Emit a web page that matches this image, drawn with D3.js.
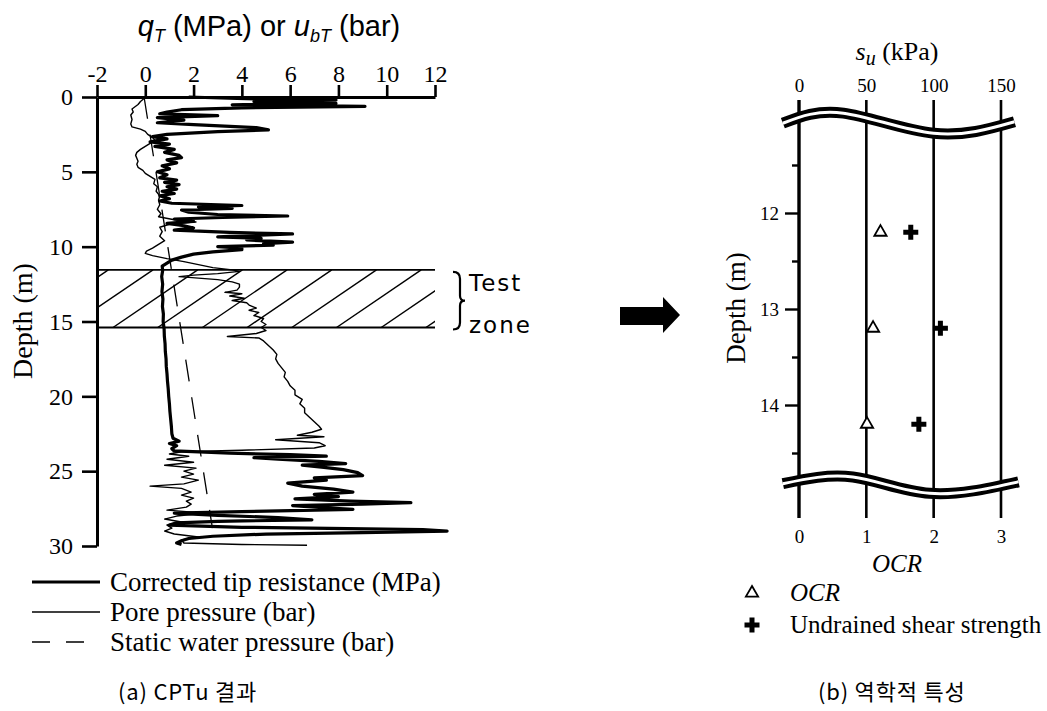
<!DOCTYPE html>
<html>
<head>
<meta charset="utf-8">
<script src="https://cdn.jsdelivr.net/npm/d3@7"></script>
<style>
body { margin: 0; background: #fff; }
svg { display: block; }
</style>
</head>
<body>
<script>

// ---- (a) CPTu data, [depth (m), value] ----
const tipResistance = [
  [0.00, 1.8], [0.10, 3.8], [0.20, 7.9], [0.30, 4.5], [0.42, 7.9], [0.52, 3.6], [0.62, 9.1],
  [0.72, 4.0], [0.85, 1.5], [1.00, 0.9], [1.12, 0.6], [1.25, 3.0], [1.38, 0.5], [1.55, 1.6],
  [1.72, 0.5], [1.85, 2.0], [2.05, 4.6], [2.20, 5.1], [2.32, 3.0], [2.50, 0.9], [2.65, 0.3],
  [2.80, 0.9], [3.00, 0.2], [3.15, 1.0], [3.30, 0.4], [3.50, 1.2], [3.70, 0.8], [3.90, 1.4],
  [4.05, 1.5], [4.20, 0.9], [4.40, 1.3], [4.60, 0.7], [4.80, 1.0], [5.00, 0.5], [5.20, 0.9],
  [5.40, 0.6], [5.55, 1.3], [5.70, 0.8], [5.85, 1.4], [6.00, 0.9], [6.15, 1.3], [6.30, 0.7],
  [6.45, 1.2], [6.60, 0.6], [6.80, 1.0], [6.95, 0.6], [7.10, 1.1], [7.25, 4.0], [7.35, 2.2],
  [7.45, 3.6], [7.55, 1.5], [7.70, 1.8], [7.85, 3.0], [7.95, 5.9], [8.05, 3.2], [8.15, 1.2],
  [8.30, 2.0], [8.45, 0.9], [8.60, 1.6], [8.75, 2.0], [8.90, 1.2], [9.05, 3.5], [9.15, 6.1],
  [9.25, 4.5], [9.35, 3.0], [9.45, 4.8], [9.55, 4.2], [9.70, 6.1], [9.80, 4.9], [9.90, 5.3],
  [10.00, 3.0], [10.10, 4.0], [10.20, 4.0], [10.35, 2.8], [10.50, 2.0], [10.70, 1.5],
  [10.90, 1.1], [11.10, 0.9], [11.30, 0.7], [11.60, 0.72], [12.00, 0.68], [12.50, 0.72],
  [13.00, 0.69], [13.50, 0.73], [14.00, 0.71], [14.50, 0.75], [15.00, 0.74], [15.50, 0.78],
  [16.00, 0.79], [16.50, 0.82], [17.00, 0.83], [17.50, 0.86], [18.00, 0.87], [18.50, 0.9],
  [19.00, 0.92], [19.50, 0.95], [20.00, 0.97], [20.50, 1.0], [21.00, 1.02], [21.50, 1.05],
  [22.00, 1.08], [22.50, 1.1], [22.80, 1.15], [23.00, 1.4], [23.15, 1.0], [23.30, 1.3],
  [23.50, 1.1], [23.65, 1.2], [23.80, 3.5], [23.90, 6.0], [24.00, 7.5], [24.10, 4.5],
  [24.20, 5.5], [24.35, 7.2], [24.50, 8.3], [24.60, 6.5], [24.75, 7.4], [24.90, 8.2],
  [25.10, 8.8], [25.30, 9.0], [25.45, 7.0], [25.60, 7.5], [25.80, 5.9], [26.00, 6.5],
  [26.20, 7.8], [26.40, 8.6], [26.55, 7.0], [26.70, 8.0], [26.85, 6.2], [27.00, 8.5],
  [27.10, 11.0], [27.20, 9.0], [27.30, 6.1], [27.45, 7.5], [27.55, 8.6], [27.70, 4.0],
  [27.80, 1.2], [27.95, 3.0], [28.10, 5.5], [28.25, 6.9], [28.35, 3.0], [28.45, 1.3],
  [28.60, 1.0], [28.75, 4.0], [28.90, 11.5], [29.00, 12.5], [29.10, 9.0], [29.20, 5.0],
  [29.35, 2.8], [29.50, 1.8], [29.65, 1.5], [29.80, 1.3], [29.90, 1.5]
];

const porePressure = [
  [0.10, -0.05], [0.30, -0.2], [0.50, -0.3], [0.80, -0.55], [1.00, -0.5], [1.20, -0.6],
  [1.50, -0.55], [1.80, -0.6], [2.00, -0.55], [2.15, -0.2], [2.30, 0.0], [2.50, 0.1],
  [2.70, 0.3], [2.90, 0.4], [3.10, 0.2], [3.30, 0.0], [3.50, -0.2], [3.70, -0.35],
  [3.90, -0.4], [4.10, -0.35], [4.30, -0.3], [4.50, -0.35], [4.70, -0.3], [4.90, -0.1],
  [5.10, 0.0], [5.30, 0.2], [5.50, 0.4], [5.80, 0.35], [6.00, 0.5], [6.30, 0.45],
  [6.60, 0.6], [6.90, 0.55], [7.20, 0.6], [7.50, 0.5], [7.80, 0.65], [8.00, 0.55],
  [8.20, 1.2], [8.35, 2.1], [8.50, 1.0], [8.70, 0.6], [9.00, 0.7], [9.30, 0.6],
  [9.60, 0.8], [9.90, 0.5], [10.10, 0.3], [10.30, 0.05], [10.45, 0.0], [10.60, 0.3],
  [10.80, 0.9], [11.00, 1.6], [11.20, 2.2], [11.40, 2.8], [11.55, 3.6], [11.65, 3.9],
  [11.80, 3.0], [11.90, 2.0], [12.00, 1.4], [12.10, 2.2], [12.20, 3.0], [12.35, 3.6],
  [12.50, 3.9], [12.70, 3.9], [12.90, 3.8], [13.05, 3.3], [13.15, 4.0], [13.30, 3.5],
  [13.45, 4.1], [13.60, 3.6], [13.75, 4.2], [13.90, 4.3], [14.10, 4.6], [14.25, 4.3],
  [14.40, 4.7], [14.60, 4.5], [14.80, 4.9], [15.00, 4.8], [15.20, 5.0], [15.40, 4.8],
  [15.60, 5.0], [15.80, 4.6], [16.00, 3.4], [16.10, 4.7], [16.30, 4.9], [16.60, 5.1],
  [16.90, 5.3], [17.20, 5.45], [17.50, 5.4], [17.80, 5.5], [18.10, 5.65], [18.40, 5.8],
  [18.70, 5.75], [19.00, 5.9], [19.30, 6.0], [19.60, 6.2], [19.90, 6.2], [20.20, 6.5],
  [20.50, 6.4], [20.80, 6.6], [21.10, 6.6], [21.40, 6.8], [21.70, 7.0], [22.00, 7.2],
  [22.20, 7.3], [22.40, 6.9], [22.60, 6.3], [22.70, 7.4], [22.90, 5.4], [23.10, 7.2],
  [23.30, 7.45], [23.45, 7.0], [23.60, 4.0], [23.70, 1.5], [23.85, 1.0], [24.00, 1.8],
  [24.20, 0.9], [24.40, 2.0], [24.60, 0.8], [24.80, 2.1], [25.00, 1.6], [25.20, 2.0],
  [25.40, 1.5], [25.60, 2.2], [25.85, 1.6], [26.00, 0.2], [26.15, 1.5], [26.40, 1.9],
  [26.60, 1.5], [26.80, 2.0], [27.00, 1.7], [27.20, 1.9], [27.40, 1.7], [27.60, 0.9],
  [27.80, 2.5], [28.00, 1.3], [28.20, 0.8], [28.40, 1.5], [28.60, 0.9], [28.80, 1.1],
  [29.00, 0.8], [29.20, 1.2], [29.40, 2.2], [29.60, 1.5], [29.80, 1.6], [29.90, 4.0],
  [29.95, 6.7]
];

const staticWater = [[0.0, -0.05], [28.8, 2.78]];
const testZone = [11.55, 15.4];
const qTicks = [-2, 0, 2, 4, 6, 8, 10, 12];
const depthTicks = [0, 5, 10, 15, 20, 25, 30];

// ---- (b) lab results ----
const sampleDepth = [12.2, 13.2, 14.2];
const ocrValues = [1.21, 1.10, 1.01];
const suValues = [83, 105, 89];
const suTicks = [0, 50, 100, 150];
const ocrTicks = [0, 1, 2, 3];
const depthMajor = [12, 13, 14];
const depthMinor = [11.5, 12.5, 13.5, 14.5];

const serif = "'Liberation Serif', 'Times New Roman', serif";
const sans = "'Liberation Sans', Arial, sans-serif";
const kor = "'Noto Sans CJK KR', sans-serif";
const plain = function (d) { return String(d); };

var svg = d3.select("body").append("svg").attr("width", 1047).attr("height", 711);
svg.append("rect").attr("width", 1047).attr("height", 711).attr("fill", "#fff");

// ================= (a) =================
var xL = d3.scaleLinear().domain([-2, 12]).range([97, 435]);
var yL = d3.scaleLinear().domain([0, 30]).range([97, 546]);

// test zone with hatching
var zTop = yL(testZone[0]), zBot = yL(testZone[1]);
svg.append("clipPath").attr("id", "zoneClip").append("rect")
    .attr("x", xL(-2)).attr("y", zTop)
    .attr("width", xL(12) - xL(-2)).attr("height", zBot - zTop);
var hatch = svg.append("g").attr("clip-path", "url(#zoneClip)");
var run = (zBot - zTop) * 1.47;
for (var k = -3; k < 9; k++) {
    var xb = xL(-2) + 16 + k * 44.7;
    hatch.append("line")
        .attr("x1", xb).attr("y1", zBot).attr("x2", xb + run).attr("y2", zTop)
        .attr("stroke", "#000").attr("stroke-width", 1.4);
}
[zTop, zBot].forEach(function (y) {
    svg.append("line").attr("x1", xL(-2)).attr("x2", xL(12))
        .attr("y1", y).attr("y2", y)
        .attr("stroke", "#000").attr("stroke-width", 1.8);
});

var traceLine = d3.line().x(function (d) { return xL(d[1]); }).y(function (d) { return yL(d[0]); });

svg.append("path").datum(staticWater).attr("d", traceLine)
    .attr("fill", "none").attr("stroke", "#000").attr("stroke-width", 1.3)
    .attr("stroke-dasharray", "22,16");
svg.append("path").datum(porePressure).attr("d", traceLine)
    .attr("fill", "none").attr("stroke", "#000").attr("stroke-width", 1.4)
    .attr("stroke-linejoin", "round");
svg.append("path").datum(tipResistance).attr("d", traceLine)
    .attr("fill", "none").attr("stroke", "#000").attr("stroke-width", 3.2)
    .attr("stroke-linejoin", "round");

// axes
var gTop = svg.append("g").attr("transform", "translate(0," + yL(0) + ")")
    .call(d3.axisTop(xL).tickValues(qTicks).tickSize(12).tickPadding(3).tickSizeOuter(0)
        .tickFormat(plain));
var gLeft = svg.append("g").attr("transform", "translate(" + xL(-2) + ",0)")
    .call(d3.axisLeft(yL).tickValues(depthTicks).tickSize(15).tickPadding(9).tickSizeOuter(0)
        .tickFormat(plain));
[gTop, gLeft].forEach(function (g) {
    g.select(".domain").attr("stroke-width", 3);
    g.selectAll(".tick line").attr("stroke-width", 2.6);
    g.selectAll("text").attr("font-family", serif).attr("font-size", 24).attr("fill", "#000");
});

// title
var title = svg.append("text").attr("x", 269).attr("y", 36).attr("text-anchor", "middle")
    .attr("font-family", sans).attr("font-size", 29);
title.append("tspan").attr("font-style", "italic").text("q");
title.append("tspan").attr("font-style", "italic").attr("font-size", 18).attr("dy", 6).text("T");
title.append("tspan").attr("dy", -6).text(" (MPa) or ");
title.append("tspan").attr("font-style", "italic").text("u");
title.append("tspan").attr("font-style", "italic").attr("font-size", 18).attr("dy", 6).text("bT");
title.append("tspan").attr("dy", -6).text(" (bar)");

svg.append("text").attr("transform", "translate(32,321) rotate(-90)")
    .attr("text-anchor", "middle").attr("font-family", serif).attr("font-size", 28)
    .text("Depth (m)");

// brace + test zone label
var bx = 453, bm = (zTop + zBot) / 2;
svg.append("path")
    .attr("d", "M" + bx + "," + (zTop + 2) + " q7,0 7,7 v" + (bm - zTop - 12) + " q0,5 5,5 q-5,0 -5,5 v" + (zBot - bm - 12) + " q0,7 -7,7")
    .attr("fill", "none").attr("stroke", "#000").attr("stroke-width", 2.2);
svg.append("text").attr("x", 469).attr("y", 291).attr("font-family", "'DejaVu Sans', sans-serif")
    .attr("font-size", 23).attr("letter-spacing", 2).text("Test");
svg.append("text").attr("x", 469).attr("y", 333).attr("font-family", "'DejaVu Sans', sans-serif")
    .attr("font-size", 23).attr("letter-spacing", 2).text("zone");

// legend (a)
var legA = [
    { label: "Corrected tip resistance (MPa)", w: 3.2, dash: null, y: 582 },
    { label: "Pore pressure (bar)", w: 1.4, dash: null, y: 612 },
    { label: "Static water pressure (bar)", w: 1.4, dash: "18,16", y: 642 }
];
legA.forEach(function (d) {
    svg.append("line").attr("x1", 32).attr("x2", 100).attr("y1", d.y).attr("y2", d.y)
        .attr("stroke", "#000").attr("stroke-width", d.w).attr("stroke-dasharray", d.dash);
    svg.append("text").attr("x", 110).attr("y", d.y + 9).attr("font-family", serif)
        .attr("font-size", 27).text(d.label);
});
svg.append("text").attr("x", 118).attr("y", 700).attr("font-family", kor)
    .attr("font-size", 22).attr("letter-spacing", 0.8).text("(a) CPTu 결과");

// arrow
svg.append("polygon")
    .attr("points", "620,307 663,307 663,297 680,315 663,333 663,325 620,325")
    .attr("fill", "#000");

// ================= (b) =================
var xS = d3.scaleLinear().domain([0, 150]).range([799, 1001]);
var xO = d3.scaleLinear().domain([0, 3]).range([799, 1001]);
var yR = d3.scaleLinear().domain([10.823, 15.177]).range([100, 518]);

suTicks.forEach(function (v, i) {
    svg.append("line").attr("x1", xS(v)).attr("x2", xS(v))
        .attr("y1", yR.range()[0]).attr("y2", yR.range()[1])
        .attr("stroke", "#000").attr("stroke-width", i === 0 ? 3.4 : 2.6);
});

var gMaj = svg.append("g").attr("transform", "translate(" + xS(0) + ",0)")
    .call(d3.axisLeft(yR).tickValues(depthMajor).tickSize(14).tickPadding(6).tickFormat(plain));
var gMin = svg.append("g").attr("transform", "translate(" + xS(0) + ",0)")
    .call(d3.axisLeft(yR).tickValues(depthMinor).tickSize(7).tickFormat(""));
var gSu = svg.append("g").attr("transform", "translate(0," + yR.range()[0] + ")")
    .call(d3.axisTop(xS).tickValues(suTicks).tickSize(0).tickPadding(8).tickFormat(plain));
var gOcr = svg.append("g").attr("transform", "translate(0," + yR.range()[1] + ")")
    .call(d3.axisBottom(xO).tickValues(ocrTicks).tickSize(0).tickPadding(12).tickFormat(plain));
[gMaj, gMin, gSu, gOcr].forEach(function (g) {
    g.select(".domain").remove();
    g.selectAll(".tick line").attr("stroke-width", 2.4);
    g.selectAll("text").attr("font-family", serif).attr("font-size", 19).attr("fill", "#000");
});

// axis breaks
var breakTop = [[-12, 11.065], [33, 10.96], [100, 11.17], [160, 11.05]];
var breakBot = [[-12, 14.82], [40, 14.75], [97, 14.92], [163, 14.80]];
var waveLine = d3.line().curve(d3.curveNatural)
    .x(function (d) { return xS(d[0]); }).y(function (d) { return yR(d[1]); });
[breakTop, breakBot].forEach(function (w) {
    svg.append("path").datum(w).attr("d", waveLine).attr("fill", "none")
        .attr("stroke", "#000").attr("stroke-width", 11);
    svg.append("path").datum(w).attr("d", waveLine).attr("fill", "none")
        .attr("stroke", "#fff").attr("stroke-width", 3);
});

// samples
var tri = d3.symbol().type(d3.symbolTriangle).size(65);
var cross = d3.symbol().type(d3.symbolCross).size(125);
sampleDepth.forEach(function (dep, i) {
    svg.append("path").attr("d", tri)
        .attr("transform", "translate(" + xO(ocrValues[i]) + "," + yR(dep) + ")")
        .attr("fill", "#fff").attr("stroke", "#000").attr("stroke-width", 1.8);
    svg.append("path").attr("d", cross)
        .attr("transform", "translate(" + xS(suValues[i]) + "," + yR(dep) + ")")
        .attr("fill", "#000");
});

// labels (b)
var suTitle = svg.append("text").attr("x", 897).attr("y", 60).attr("text-anchor", "middle")
    .attr("font-family", serif).attr("font-size", 26);
suTitle.append("tspan").attr("font-style", "italic").text("s");
suTitle.append("tspan").attr("font-style", "italic").attr("font-size", 20).attr("dy", 5).text("u");
suTitle.append("tspan").attr("dy", -5).text(" (kPa)");

svg.append("text").attr("x", 897).attr("y", 572).attr("text-anchor", "middle")
    .attr("font-family", serif).attr("font-size", 25).attr("font-style", "italic").text("OCR");

svg.append("text").attr("transform", "translate(745,308) rotate(-90)")
    .attr("text-anchor", "middle").attr("font-family", serif).attr("font-size", 27)
    .text("Depth (m)");

svg.append("path").attr("d", tri).attr("transform", "translate(752,593)")
    .attr("fill", "#fff").attr("stroke", "#000").attr("stroke-width", 1.8);
svg.append("text").attr("x", 790).attr("y", 601).attr("font-family", serif)
    .attr("font-size", 25).attr("font-style", "italic").text("OCR");
svg.append("path").attr("d", cross).attr("transform", "translate(752,625)").attr("fill", "#000");
svg.append("text").attr("x", 790).attr("y", 633).attr("font-family", serif)
    .attr("font-size", 25).text("Undrained shear strength");

svg.append("text").attr("x", 818).attr("y", 700).attr("font-family", kor)
    .attr("font-size", 22).attr("letter-spacing", 0.8).text("(b) 역학적 특성");

</script>
</body>
</html>
